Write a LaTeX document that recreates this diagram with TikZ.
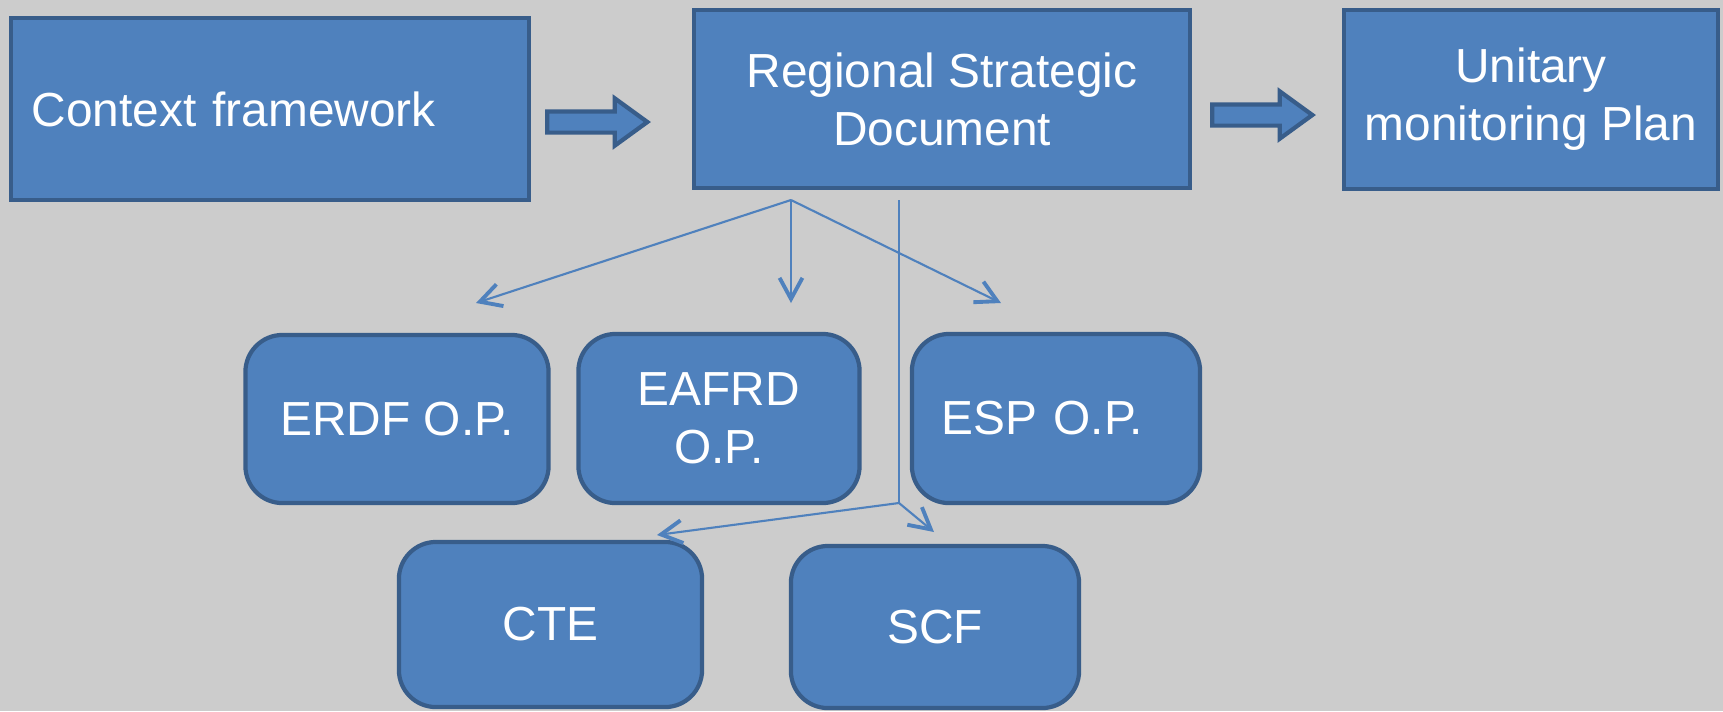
\documentclass[tikz,border=0pt]{standalone}
\usepackage{fontspec}
\setmainfont{Liberation Sans}
\usetikzlibrary{shapes.arrows,arrows.meta}
\definecolor{boxblue}{HTML}{4F81BD}
\definecolor{boxedge}{HTML}{385D8A}
\definecolor{bggray}{HTML}{CCCCCC}

\begin{document}
\begin{tikzpicture}[x=0.01cm, y=-0.01cm,
        sqbox/.style={shape=rectangle, fill=boxblue, draw=boxedge, line width=1.2pt, text=white, font=\fontsize{13.6}{16.5}\selectfont, align=center, inner sep=0pt},
        rbox/.style={sqbox, rounded corners=0.37cm},
        bigarrow/.style={shape=single arrow, fill=boxblue, draw=boxedge, line width=1.2pt, inner xsep=0pt, inner ysep=0.085cm, single arrow head extend=0.13cm, single arrow tip angle=72},
        link/.style={draw=boxblue, line width=0.6pt, -{Straight Barb[length=6pt, width=6.5pt, line width=1.1pt]}}]
        \fill[bggray] (0,0) rectangle (1723,711);
        \useasboundingbox (0,0) rectangle (1723,711);
        % top row
        \node[sqbox, minimum width=5.18cm, minimum height=1.82cm, text width=4.76cm, align=left] (ctx) at (270,109) {Context framework};
        \node[sqbox, minimum width=4.96cm, minimum height=1.78cm] (rsd) at (942,99) {Regional Strategic\\Document};
        \node[sqbox, minimum width=3.74cm, minimum height=1.79cm] (ump) at (1531,99.5) {Unitary\\monitoring Plan};
        \node[bigarrow, minimum height=1.0cm] (ar1) at (590,122) {};
        \node[bigarrow, minimum height=1.0cm] (ar2) at (1255,115) {};
        % programmes
        \node[rbox, minimum width=3.03cm, minimum height=1.68cm] (erdf) at (397,419) {ERDF O.P.};
        \node[rbox, minimum width=2.81cm, minimum height=1.69cm] (eafrd) at (719,418.5) {EAFRD\\O.P.};
        \node[rbox, minimum width=2.88cm, minimum height=1.69cm, text width=2.28cm, align=left] (esp) at (1056,418.5) {ESP O.P.};
        \node[rbox, minimum width=3.03cm, minimum height=1.65cm] (cte) at (550.5,624.5) {CTE};
        \node[rbox, minimum width=2.88cm, minimum height=1.62cm] (scf) at (935,627) {SCF};
        % connectors
        \coordinate (J1) at (791,200);
        \coordinate (J2) at (899,200);
        \coordinate (J3) at (899,503);
        \coordinate (T1) at (476,303);
        \coordinate (T2) at (791,303);
        \coordinate (T3) at (1001,303);
        \coordinate (T4) at (657,535);
        \coordinate (T5) at (934,532);
        \draw[link] (J1) to (T1);
        \draw[link] (J1) to (T2);
        \draw[link] (J1) to (T3);
        \draw[draw=boxblue, line width=0.6pt] (J2) to (J3);
        \draw[link] (J3) to (T4);
        \draw[link] (J3) to (T5);
    \end{tikzpicture}
\end{document}
